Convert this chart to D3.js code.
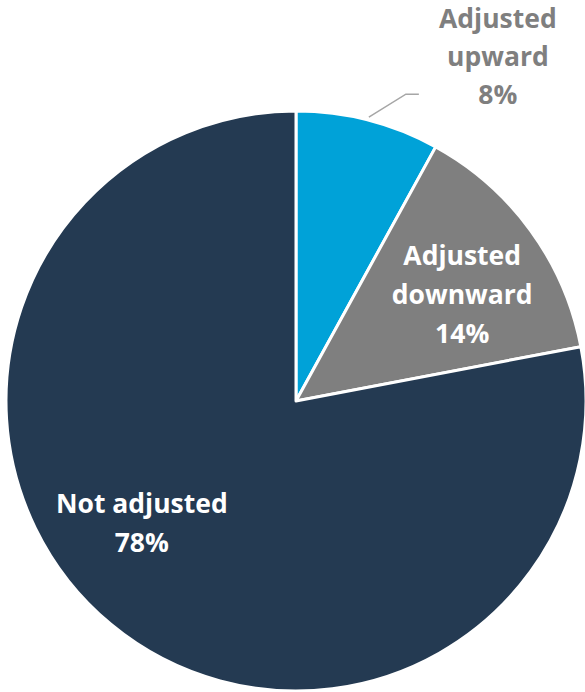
<!DOCTYPE html>
<html>
<head>
<meta charset="utf-8">
<script src="https://cdn.jsdelivr.net/npm/d3@7"></script>
<style>
  html, body { margin: 0; padding: 0; background: #ffffff; }
  svg { display: block; }
  text { font-family: "Open Sans", "Noto Sans", sans-serif; font-weight: 700; }
</style>
</head>
<body>
<svg id="chart" width="585" height="692"></svg>
<script>
// Share of items by adjustment direction
const categories = ["Adjusted upward", "Adjusted downward", "Not adjusted"];
const shares = [8, 14, 78];
const sliceColors = ["#00a2d8", "#7f7f7f", "#243a52"];

const width = 585, height = 692;
const cx = 296, cy = 401, radius = 290;

const svg = d3.select("#chart");
const g = svg.append("g").attr("transform", `translate(${cx},${cy})`);

const pie = d3.pie().sort(null).value(d => d.value);
const data = pie(categories.map((c, i) => ({ name: c, value: shares[i], color: sliceColors[i] })));

const arc = d3.arc().innerRadius(0).outerRadius(radius);

g.selectAll("path.slice")
  .data(data)
  .join("path")
  .attr("class", "slice")
  .attr("d", arc)
  .attr("fill", d => d.data.color)
  .attr("stroke", "#ffffff")
  .attr("stroke-width", 3)
  .attr("stroke-linejoin", "round");

const fontSize = 26.5;
const lineH = 39;

// Inside labels: placed around the slice with a small per-slice nudge
const insideArc = d3.arc().innerRadius(198).outerRadius(198);
const insideNudge = { "Adjusted downward": [6, 10], "Not adjusted": [-28, -30] };
const labelLines = d => {
  const parts = d.data.name.split(" ");
  return [...parts, d.data.value + "%"];
};

data.forEach((d, i) => {
  if (i === 0) return;
  const [x, y] = insideArc.centroid(d);
  const [nx, ny] = insideNudge[d.data.name];
  const lines = d.data.name === "Not adjusted" ? [d.data.name, d.data.value + "%"] : labelLines(d);
  const t = g.append("text")
    .attr("text-anchor", "middle")
    .attr("fill", "#ffffff")
    .attr("font-size", fontSize);
  const y0 = y + ny - (lines.length - 1) * lineH / 2;
  lines.forEach((ln, k) => {
    t.append("tspan")
      .attr("x", x + nx)
      .attr("y", y0 + k * lineH)
      .attr("dy", "0.35em")
      .text(ln);
  });
});

// Outside label with leader line for the small slice
const small = data[0];
const mid = (small.startAngle + small.endAngle) / 2;
const p0 = [Math.sin(mid) * (radius + 3), -Math.cos(mid) * (radius + 3)];
const elbow = [p0[0] + 37, p0[1] - 23];
const end = [elbow[0] + 13, elbow[1]];
g.append("polyline")
  .attr("points", [p0, elbow, end].map(p => p.join(",")).join(" "))
  .attr("fill", "none")
  .attr("stroke", "#a6a6a6")
  .attr("stroke-width", 1.5);

const outLines = labelLines(small);
const ot = g.append("text")
  .attr("text-anchor", "middle")
  .attr("fill", "#7f7f7f")
  .attr("font-size", fontSize);
const ox = end[0] + 79, oy0 = end[1] - 38 - 37;
outLines.forEach((ln, k) => {
  ot.append("tspan")
    .attr("x", ox)
    .attr("y", oy0 + k * 38)
    .attr("dy", "0.35em")
    .text(ln);
});
</script>
</body>
</html>
